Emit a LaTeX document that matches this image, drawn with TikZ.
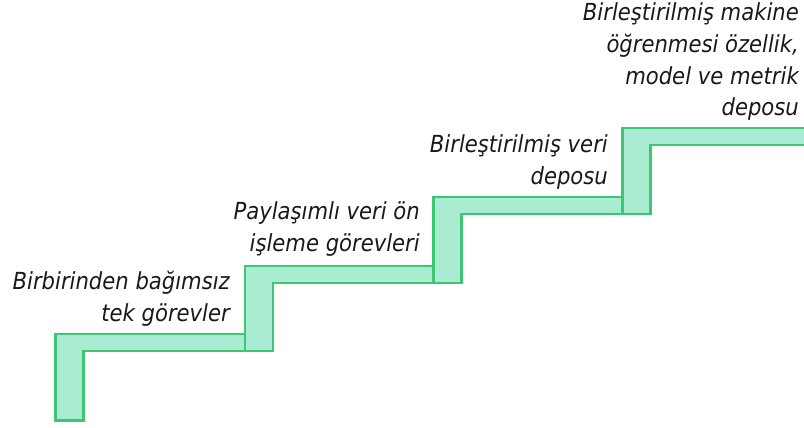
\documentclass[tikz,border=0pt]{standalone}
\usepackage{fontspec}
\setmainfont{DejaVu Sans Condensed}
\definecolor{stepfill}{HTML}{A9ECD1}
\definecolor{stepline}{HTML}{3DC774}
\tikzset{
  stair/.style={fill=stepfill, draw=stepline, line width=2.4pt, line join=miter},
  lbl/.style={anchor=base east, align=right, inner sep=0pt,
    font=\fontsize{23.5}{32}\selectfont\itshape, text=black!90}
}
\begin{document}
\begin{tikzpicture}[x=1pt,y=-1pt]
\useasboundingbox (0,0) rectangle (804,428);
\clip (0,0) rectangle (804,428);
% step 1
\draw[stair] (55.5,420.5) -- (55.5,334) -- (245,334) -- (245,350.7) -- (83.5,350.7) -- (83.5,420.5) -- cycle;
% step 2
\draw[stair] (245,350.7) -- (245,265.7) -- (433.3,265.7) -- (433.3,282.7) -- (273,282.7) -- (273,350.7) -- cycle;
% step 3
\draw[stair] (433.3,282.7) -- (433.3,196.7) -- (622.3,196.7) -- (622.3,213.7) -- (461.5,213.7) -- (461.5,282.7) -- cycle;
% step 4
\draw[stair] (622.3,213.7) -- (622.3,127.7) -- (810,127.7) -- (810,144.7) -- (650.5,144.7) -- (650.5,213.7) -- cycle;
% labels
\node[lbl] (l1) at (230,321) {Birbirinden bağımsız\\tek görevler};
\node[lbl] (l2) at (420,251) {Paylaşımlı veri ön\\işleme görevleri};
\node[lbl] (l3) at (608,184.5) {Birleştirilmiş veri\\deposu};
\node[lbl] (l4) at (799,116) {Birleştirilmiş makine\\öğrenmesi özellik,\\model ve metrik\\deposu};
\end{tikzpicture}
\end{document}
